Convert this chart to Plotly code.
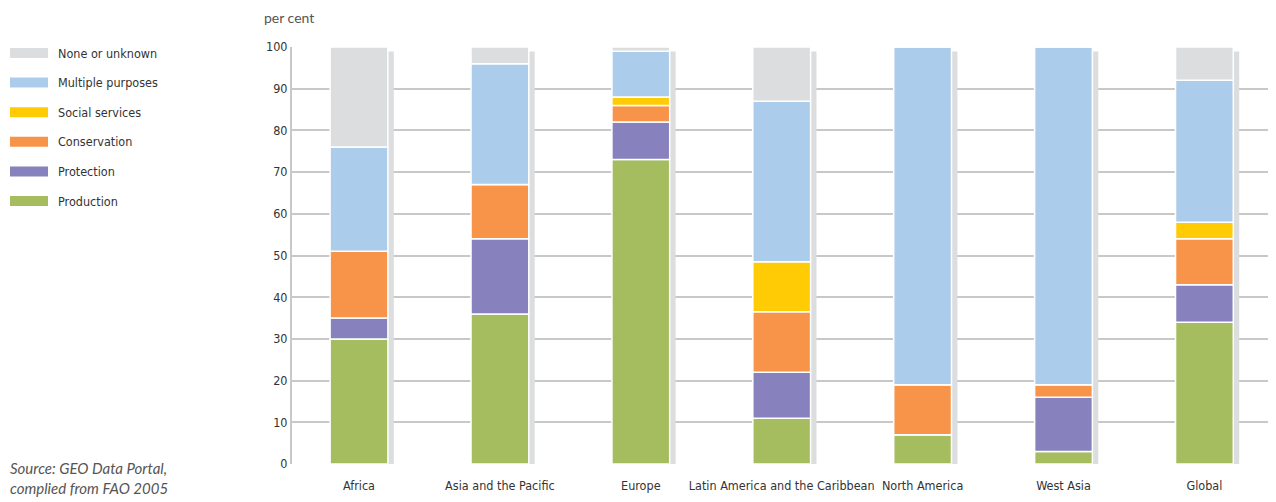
import plotly.graph_objects as go

regions = ["Africa", "Asia and the Pacific", "Europe", "Latin America and the Caribbean",
           "North America", "West Asia", "Global"]

# per cent of forest area by designated function (stacked bottom -> top)
production = [30, 36, 73, 11, 7, 3, 34]
protection = [5, 18, 9, 11, 0, 13, 9]
conservation = [16, 13, 4, 14.5, 12, 3, 11]
social_services = [0, 0, 2, 12, 0, 0, 4]
multiple_purposes = [25, 29, 11, 38.5, 81, 81, 34]
none_unknown = [24, 4, 1, 13, 0, 0, 8]

series_names = ["Production", "Protection", "Conservation", "Social services",
                "Multiple purposes", "None or unknown"]
series_values = [production, protection, conservation, social_services,
                 multiple_purposes, none_unknown]
colors = ["#a5bd5e", "#8781bd", "#f7944a", "#ffcb05", "#abcdeb", "#dcdddf"]

y_ticks = list(range(0, 101, 10))

font_narrow = "DejaVu Sans Condensed, Roboto, sans-serif"
bar_w = 0.41

fig = go.Figure()

# grey drop shadow behind each column
totals = [sum(v) for v in zip(*series_values)]
fig.add_trace(go.Bar(
    x=regions, y=totals, base=[-1.1] * len(regions),
    width=bar_w, offset=-bar_w / 2 + 0.042,
    marker=dict(color="#dcdddf", line=dict(width=0)),
    cliponaxis=False, showlegend=False, hoverinfo="skip"
))

base = [0] * len(regions)
for name, vals, col in zip(series_names, series_values, colors):
    fig.add_trace(go.Bar(
        x=regions, y=vals, base=list(base), name=name,
        width=bar_w, offset=-bar_w / 2,
        marker=dict(color=col, line=dict(color="white", width=1.5)),
        showlegend=False
    ))
    base = [b + v for b, v in zip(base, vals)]

PW = 980.0   # plot width in px
PH = 417.0   # plot height in px

# legend drawn as flat swatches (top item = last series)
shapes = []
annotations = []
for i, (name, col) in enumerate(zip(series_names[::-1], colors[::-1])):
    yc = 53 + i * 29.6
    shapes.append(dict(type="rect", xref="paper", yref="paper",
                       x0=(10 - 292) / PW, x1=(48 - 292) / PW,
                       y0=(464 - yc - 5) / PH, y1=(464 - yc + 5) / PH,
                       fillcolor=col, line=dict(width=0)))
    annotations.append(dict(text=name, xref="paper", yref="paper",
                            x=(56 - 292) / PW, y=(464 - yc) / PH,
                            xanchor="left", yanchor="middle", showarrow=False,
                            font=dict(family=font_narrow, size=12.5, color="#333333")))

annotations.append(dict(text="per cent", xref="paper", yref="paper",
                        x=(262 - 292) / PW, y=(464 - 17) / PH,
                        xanchor="left", yanchor="middle", showarrow=False,
                        font=dict(family="Lato, sans-serif", size=14, color="#555555")))
annotations.append(dict(text="<i>Source: GEO Data Portal,<br>complied from FAO 2005</i>",
                        xref="paper", yref="paper",
                        x=(8 - 292) / PW, y=(464 - 478) / PH,
                        xanchor="left", yanchor="middle", align="left", showarrow=False,
                        font=dict(family="Lato, sans-serif", size=15, color="#555555")))

# page body adds an 8px margin, so the figure is drawn 8px smaller
fig.update_layout(
    width=1268, height=494,
    margin=dict(l=284, r=4, t=39, b=38),
    paper_bgcolor="white", plot_bgcolor="white",
    barmode="overlay",
    shapes=shapes, annotations=annotations,
    xaxis=dict(range=[-0.4755, 6.4797], showgrid=False, showline=False, ticks="",
               tickangle=0, automargin=False, ticklabelstandoff=12,
               tickfont=dict(family=font_narrow, size=12.5, color="#333333")),
    yaxis=dict(range=[0, 100], tickvals=y_ticks, showgrid=True, automargin=False,
               gridcolor="#c8c8c8", gridwidth=2, zeroline=False,
               showline=True, mirror=True, linecolor="#c8c8c8", linewidth=2, ticks="",
               tickfont=dict(family=font_narrow, size=12.5, color="#333333")),
)

fig.write_html("out.html")
